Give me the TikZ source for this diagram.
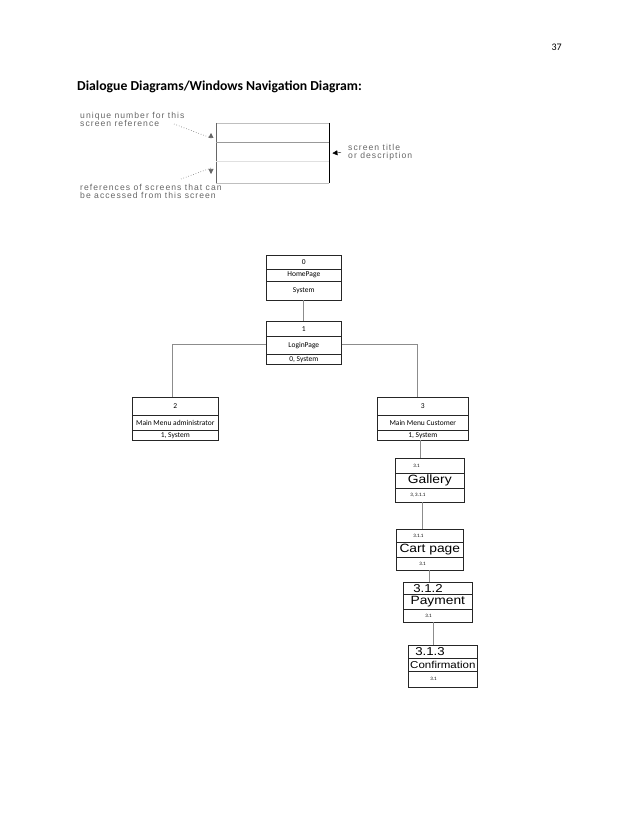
\documentclass[tikz,border=0pt]{standalone}
\usepackage{fontspec}
\setmainfont{Carlito}
\newfontfamily\arialfont{Liberation Sans}
\newfontfamily\notefont[LetterSpace=12]{Liberation Sans}
\usetikzlibrary{shapes.multipart, arrows.meta}

% one row of a screen box: width, height, text
\newcommand{\cellbox}[3]{\parbox[c][#2][c]{#1}{\centering #3}}
\newcommand{\leftcell}[4]{\parbox[c][#2][c]{#1}{\hspace*{#3}#4}}
\newcommand{\labsize}{\fontsize{7.5}{8}\selectfont}
\newcommand{\refsize}{\fontsize{5}{6}\selectfont}
\newcommand{\bigtext}[2]{{\arialfont\fontsize{#1}{#1}\selectfont\scalebox{1.15}[1]{#2}}}

\begin{document}
\begin{tikzpicture}[x=1pt, y=-1pt,
    screen/.style={rectangle split, rectangle split parts=3, draw=black!85, line width=0.6pt, inner sep=0pt, anchor=north west},
    link/.style={draw=black!45, line width=1.2pt},
    hint/.style={black!60, dotted, line width=0.6pt, -{Triangle[length=5pt,width=5pt]}},
    note/.style={font=\notefont\fontsize{8.6}{8.5}\selectfont, text=black!60, align=left, inner sep=0pt}
  ]

  \useasboundingbox (0,0) rectangle (638,826);

  % page header
  \node[anchor=east, inner sep=0pt] (pagenum) at (562,47) {\fontsize{10}{12}\selectfont 37};
  \node[anchor=west, inner sep=0pt] (heading) at (77,87) {\fontsize{13.7}{15}\selectfont\bfseries Dialogue Diagrams/Windows Navigation Diagram:};

  % legend
  \node[minimum width=113pt, minimum height=60pt, inner sep=0pt, anchor=north west] (legend) at (216,123) {};
  \draw[black!25] (legend.north west) -- (legend.north east);
  \draw[black!25] (legend.south west) -- (legend.south east);
  \draw[black!60] (legend.north west) -- (legend.south west);
  \draw[black, line width=0.8pt] (legend.north east) -- (legend.south east);
  \draw[black!40] ([yshift=-19pt]legend.north west) -- ([yshift=-19pt]legend.north east);
  \draw[black!12] ([yshift=-38pt]legend.north west) -- ([yshift=-38pt]legend.north east);

  \node[note, anchor=north west] (numnote) at (80,112) {unique number for this\\screen reference};
  \node[note, anchor=north west] (refnote) at (80,184) {references of screens that can\\be accessed from this screen};
  \node[note, anchor=west] (titlenote) at (348,152.5) {screen title\\or description};

  \coordinate (numfrom) at (174,124);
  \coordinate (numtip) at (211,133);
  \coordinate (reffrom) at (181,179);
  \coordinate (reftip) at (211,174);
  \draw[hint] (numfrom) -- (211,138) -- (numtip);
  \draw[hint] (reffrom) -- (211,168) -- (reftip);
  \draw[-{Triangle[length=5pt,width=5pt]}, black] ([xshift=-7pt]titlenote.west) -- ([xshift=3pt]legend.east);

  % screens
  \node[screen] (home) at (266,255)
    {\cellbox{75pt}{13pt}{\labsize 0}
     \nodepart{two}\cellbox{75pt}{12pt}{\labsize HomePage}
     \nodepart{three}\cellbox{75pt}{18pt}{\labsize System}};
  \node[screen] (login) at (266,321)
    {\cellbox{75pt}{14pt}{\labsize 1}
     \nodepart{two}\cellbox{75pt}{18pt}{\labsize LoginPage}
     \nodepart{three}\cellbox{75pt}{9pt}{\labsize 0, System}};
  \node[screen] (admin) at (132,397)
    {\cellbox{86pt}{17pt}{\labsize 2}
     \nodepart{two}\cellbox{86pt}{15pt}{\labsize Main Menu administrator}
     \nodepart{three}\cellbox{86pt}{9pt}{\labsize 1, System}};
  \node[screen] (cust) at (377,397)
    {\cellbox{91pt}{17pt}{\labsize 3}
     \nodepart{two}\cellbox{91pt}{15pt}{\labsize Main Menu Customer}
     \nodepart{three}\cellbox{91pt}{9pt}{\labsize 1, System}};
  \node[screen] (gallery) at (395,458)
    {\leftcell{69pt}{14pt}{18pt}{\refsize 3.1}
     \nodepart{two}\cellbox{69pt}{15pt}{\bigtext{12}{Gallery}}
     \nodepart{three}\leftcell{69pt}{13pt}{15pt}{\refsize 3, 3.1.1}};
  \node[screen] (cart) at (396,529)
    {\leftcell{67pt}{12pt}{17pt}{\refsize 3.1.1}
     \nodepart{two}\cellbox{67pt}{15pt}{\bigtext{12}{Cart page}}
     \nodepart{three}\leftcell{67pt}{12pt}{23pt}{\refsize 3.1}};
  \node[screen] (pay) at (403,582)
    {\leftcell{69pt}{11pt}{10pt}{\bigtext{11.5}{3.1.2}}
     \nodepart{two}\cellbox{69pt}{15pt}{\bigtext{12}{Payment}}
     \nodepart{three}\leftcell{69pt}{12pt}{22pt}{\refsize 3.1}};
  \node[screen] (conf) at (408,645)
    {\leftcell{69pt}{12pt}{7pt}{\bigtext{11.5}{3.1.3}}
     \nodepart{two}\cellbox{69pt}{13pt}{\bigtext{10}{Confirmation}}
     \nodepart{three}\leftcell{69pt}{15pt}{22pt}{\refsize 3.1}};

  % navigation links
  \draw[link] (home) -- (login);
  \draw[link] ([yshift=-1.5pt]login.west) -| ([xshift=-3pt]admin.north);
  \draw[link] ([yshift=-1.5pt]login.east) -| ([xshift=-5.5pt]cust.north);
  \draw[link] ([xshift=-2.5pt]cust.south) -- ([xshift=-2.5pt]cust.south |- gallery.north);
  \draw[link] ([xshift=-7.5pt]gallery.south) -- ([xshift=-7.5pt]gallery.south |- cart.north);
  \draw[link] (cart.south) -- (cart.south |- pay.north);
  \draw[link] ([xshift=-4.5pt]pay.south) -- ([xshift=-4.5pt]pay.south |- conf.north);
\end{tikzpicture}
\end{document}
